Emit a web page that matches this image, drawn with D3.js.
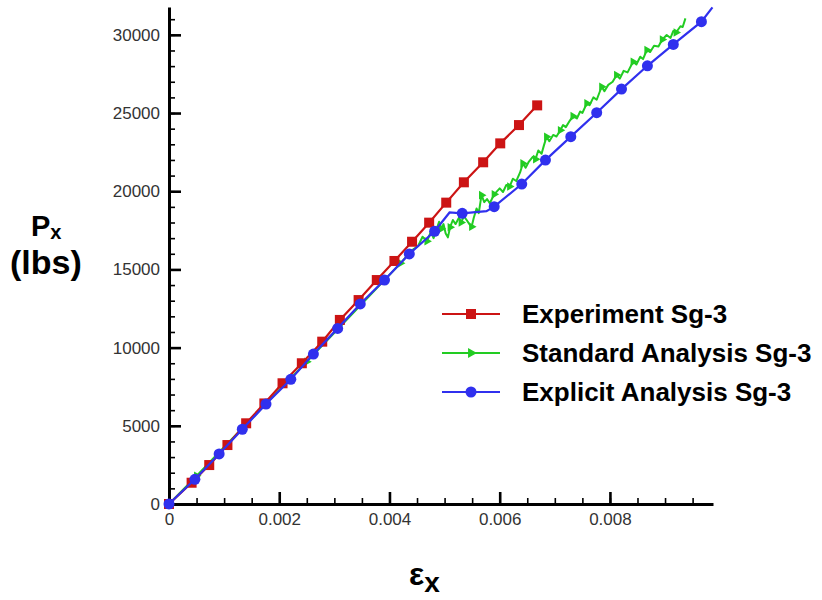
<!DOCTYPE html>
<html><head><meta charset="utf-8">
<script src="https://cdn.jsdelivr.net/npm/d3@7"></script>
<style>
body{margin:0;background:#fff;}
svg{display:block;font-family:"Liberation Sans",Arial,sans-serif;}
</style></head>
<body><svg id="c" width="822" height="600"></svg>
<script>
// ---- data ----
const seriesNames = ["Experiment Sg-3", "Standard Analysis Sg-3", "Explicit Analysis Sg-3"];
const seriesColors = ["#cc1414", "#22cc22", "#3030ee"];

const expStrain = [0, 0.00041, 0.00073, 0.00106, 0.00140, 0.00173, 0.00206, 0.00241, 0.00278, 0.00310, 0.00344, 0.00377, 0.00409, 0.00441, 0.00472, 0.00503, 0.00535, 0.00570, 0.00601, 0.00635, 0.00668];
const expLoad   = [0, 1360, 2490, 3770, 5160, 6430, 7720, 9000, 10380, 11770, 13040, 14320, 15540, 16770, 17990, 19270, 20570, 21850, 23060, 24230, 25490];

const stdStrain = [0, 0.0005, 0.001, 0.0015, 0.002, 0.0025, 0.003, 0.0035, 0.004, 0.0042, 0.0044, 0.00452, 0.0046, 0.00468, 0.00475, 0.0048, 0.0049, 0.00494, 0.00498, 0.00502, 0.00506, 0.0051, 0.00515, 0.0052, 0.00526, 0.0053, 0.00535, 0.0054, 0.00545, 0.00549, 0.00553, 0.00558, 0.00562, 0.00567, 0.00572, 0.00577, 0.00582, 0.0059, 0.006, 0.00606, 0.00612, 0.00618, 0.00624, 0.0063, 0.00637, 0.00642, 0.00647, 0.00653, 0.0066, 0.00665, 0.0067, 0.00676, 0.0068, 0.00685, 0.0069, 0.00697, 0.00703, 0.0071, 0.00715, 0.0072, 0.00727, 0.00733, 0.0074, 0.00746, 0.0075, 0.00758, 0.00763, 0.0077, 0.00776, 0.00785, 0.0079, 0.00797, 0.00805, 0.00812, 0.00818, 0.00825, 0.00832, 0.00842, 0.00848, 0.00855, 0.0086, 0.00867, 0.00873, 0.0088, 0.00888, 0.00895, 0.00903, 0.0091, 0.00915, 0.0092, 0.00928, 0.00932, 0.00937];
const stdLoad   = [0, 1800, 3650, 5450, 7300, 9100, 10950, 12800, 14650, 15390, 16200, 16500, 17090, 16800, 17400, 17000, 18050, 17600, 17900, 17300, 17050, 17700, 18160, 17900, 18300, 18000, 18400, 18160, 17900, 17730, 18300, 18900, 18600, 19750, 19300, 19500, 19230, 19800, 20180, 19950, 20400, 20300, 20800, 20650, 21200, 21780, 21500, 21900, 22200, 22050, 22600, 22400, 22900, 23480, 23200, 23600, 23500, 23900, 24230, 24100, 24500, 24800, 24650, 25100, 25000, 25620, 25500, 26000, 25850, 26680, 26400, 26800, 27000, 27430, 27200, 27700, 27600, 28280, 28100, 28600, 28450, 29030, 28900, 29300, 29250, 29700, 29990, 29800, 30250, 30150, 30550, 30500, 31050];

const explStrain = [0, 0.00047, 0.00091, 0.00133, 0.00176, 0.00221, 0.00262, 0.00306, 0.00347, 0.00391, 0.00436, 0.00482, 0.00509, 0.00532, 0.00576, 0.00590, 0.00640, 0.00683, 0.00729, 0.00776, 0.00821, 0.00868, 0.00915, 0.00966, 0.00986];
const explLoad   = [0, 1580, 3200, 4780, 6390, 7970, 9590, 11230, 12790, 14320, 15990, 17440, 18640, 18590, 18730, 19010, 20460, 21990, 23490, 25020, 26530, 28020, 29390, 30840, 31760];
const explMarked = [1, 1, 1, 1, 1, 1, 1, 1, 1, 1, 1, 1, 0, 1, 0, 1, 1, 1, 1, 1, 1, 1, 1, 1, 0];

const xMajorTicks = [0, 0.002, 0.004, 0.006, 0.008];
const xTickLabels = ["0", "0.002", "0.004", "0.006", "0.008"];
const yMajorTicks = [0, 5000, 10000, 15000, 20000, 25000, 30000];
const yTickLabels = ["0", "5000", "10000", "15000", "20000", "25000", "30000"];

// ---- layout ----
const svg = d3.select("#c");
const x = d3.scaleLinear().domain([0, 0.00987]).range([169, 713]);
const y = d3.scaleLinear().domain([0, 31780]).range([504, 7]);

const xMinor = d3.range(0, 0.00951, 0.0005);
const yMinor = d3.range(0, 31001, 1000);

// minor ticks
svg.append("g").attr("transform","translate(0,504)")
  .call(d3.axisBottom(x).tickValues(xMinor).tickSize(-6).tickSizeOuter(0).tickFormat(""))
  .call(g=>{g.select(".domain").remove(); g.selectAll("line").attr("stroke","#000").attr("stroke-width",1.6);});
svg.append("g").attr("transform","translate(169,0)")
  .call(d3.axisLeft(y).tickValues(yMinor).tickSize(-6).tickSizeOuter(0).tickFormat(""))
  .call(g=>{g.select(".domain").remove(); g.selectAll("line").attr("stroke","#000").attr("stroke-width",1.6);});

// major
const xa = svg.append("g").attr("transform","translate(0,504)")
  .call(d3.axisBottom(x).tickValues(xMajorTicks).tickSize(-12).tickSizeOuter(0).tickPadding(9)
        .tickFormat((d,i)=>xTickLabels[i]));
xa.select(".domain").attr("stroke","#000").attr("stroke-width",3);
xa.selectAll("line").attr("stroke","#000").attr("stroke-width",2.6);
xa.selectAll("text").attr("font-size",17).attr("fill","#333").attr("font-family","Liberation Sans, Arial, sans-serif");

const ya = svg.append("g").attr("transform","translate(169,0)")
  .call(d3.axisLeft(y).tickValues(yMajorTicks).tickSize(-12).tickSizeOuter(0).tickPadding(9)
        .tickFormat((d,i)=>yTickLabels[i]));
ya.select(".domain").attr("stroke","#000").attr("stroke-width",3);
ya.selectAll("line").attr("stroke","#000").attr("stroke-width",2.6);
ya.selectAll("text").attr("font-size",17).attr("fill","#333").attr("font-family","Liberation Sans, Arial, sans-serif");

// ---- series ----
const line = d3.line().x(d=>x(d[0])).y(d=>y(d[1]));
const expData = expStrain.map((s,i)=>[s, expLoad[i]]);
const stdData = stdStrain.map((s,i)=>[s, stdLoad[i]]);
const explData = explStrain.map((s,i)=>[s, explLoad[i], explMarked[i]]);

const plot = svg.append("g");
// green
plot.append("path").datum(stdData).attr("d",line).attr("fill","none")
  .attr("stroke",seriesColors[1]).attr("stroke-width",2).attr("stroke-linejoin","round");
const tri = d3.symbol().type(d3.symbolTriangle).size(32);
plot.selectAll(".gm").data(stdData.filter((d,i)=>i%4===1)).join("path")
  .attr("d",tri).attr("fill",seriesColors[1])
  .attr("transform",d=>`translate(${x(d[0])},${y(d[1])}) rotate(90)`);
// red
plot.append("path").datum(expData).attr("d",line).attr("fill","none")
  .attr("stroke",seriesColors[0]).attr("stroke-width",2.2);
plot.selectAll(".rm").data(expData).join("rect")
  .attr("x",d=>x(d[0])-5).attr("y",d=>y(d[1])-5).attr("width",10).attr("height",10)
  .attr("fill",seriesColors[0]);
// blue
plot.append("path").datum(explData).attr("d",line).attr("fill","none")
  .attr("stroke",seriesColors[2]).attr("stroke-width",2.2);
plot.selectAll(".bm").data(explData.filter(d=>d[2]===1)).join("circle")
  .attr("cx",d=>x(d[0])).attr("cy",d=>y(d[1])).attr("r",5.5)
  .attr("fill",seriesColors[2]);

// ---- legend ----
const lg = svg.append("g");
seriesNames.forEach((name,i)=>{
  const ly = 314 + i*39;
  lg.append("line").attr("x1",442).attr("x2",500).attr("y1",ly).attr("y2",ly)
    .attr("stroke",seriesColors[i]).attr("stroke-width",2.2);
  if(i===0) lg.append("rect").attr("x",466).attr("y",ly-5).attr("width",10).attr("height",10).attr("fill",seriesColors[0]);
  if(i===1) lg.append("path").attr("d",d3.symbol().type(d3.symbolTriangle).size(45)).attr("fill",seriesColors[1]).attr("transform",`translate(471,${ly}) rotate(90)`);
  if(i===2) lg.append("circle").attr("cx",471).attr("cy",ly).attr("r",5.5).attr("fill",seriesColors[2]);
  lg.append("text").attr("x",522).attr("y",ly+9).attr("font-size",26).attr("font-weight","bold")
    .attr("fill","#000").text(name);
});

// ---- titles ----
const yt = svg.append("text").attr("font-weight","bold").attr("fill","#000");
yt.append("tspan").attr("x",31).attr("y",236).attr("font-size",29).text("P");
yt.append("tspan").attr("dy",3).attr("font-size",20).text("x");
svg.append("text").attr("x",10).attr("y",274).attr("font-size",34).attr("font-weight","bold").text("(lbs)");

const xt = svg.append("text").attr("font-weight","bold").attr("fill","#000");
xt.append("tspan").attr("x",409).attr("y",585).attr("font-size",32).text("ε");
xt.append("tspan").attr("dy",7).attr("font-size",28).text("x");
</script></body></html>
